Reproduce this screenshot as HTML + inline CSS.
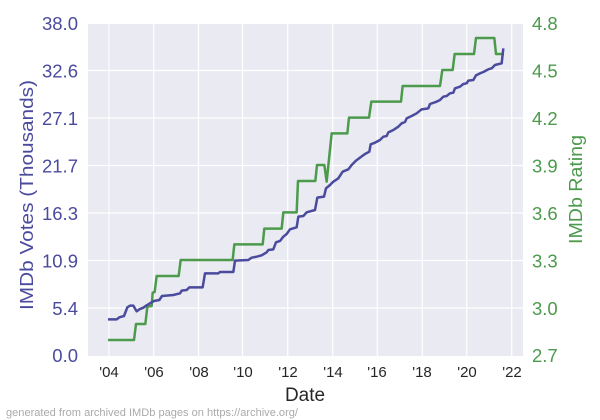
<!DOCTYPE html>
<html><head><meta charset="utf-8"><style>
html,body{margin:0;padding:0;background:#fff;}
svg{display:block;font-family:"Liberation Sans",Arial,sans-serif;}
</style></head><body>
<svg width="600" height="420" viewBox="0 0 600 420">
<rect x="88" y="24" width="435" height="332" fill="#eaeaf2"/>
<g stroke="#fff" stroke-width="1.2">
<line x1="88" x2="523" y1="70.5" y2="70.5"/><line x1="88" x2="523" y1="118" y2="118"/>
<line x1="88" x2="523" y1="165.5" y2="165.5"/><line x1="88" x2="523" y1="213" y2="213"/>
<line x1="88" x2="523" y1="260.5" y2="260.5"/><line x1="88" x2="523" y1="308" y2="308"/>
<line y1="24" y2="356" x1="109" x2="109"/><line y1="24" y2="356" x1="153.7" x2="153.7"/>
<line y1="24" y2="356" x1="198.5" x2="198.5"/><line y1="24" y2="356" x1="242.5" x2="242.5"/>
<line y1="24" y2="356" x1="287.7" x2="287.7"/><line y1="24" y2="356" x1="332.7" x2="332.7"/>
<line y1="24" y2="356" x1="377.3" x2="377.3"/><line y1="24" y2="356" x1="422.3" x2="422.3"/>
<line y1="24" y2="356" x1="466.7" x2="466.7"/><line y1="24" y2="356" x1="511.7" x2="511.7"/>
</g>
<g transform="translate(80,10) scale(0.33333)" fill="none" stroke-width="7.5" stroke-linejoin="round">
<path stroke="#4c9a4c" d="M84,990 L162,990 L168,942 L196,942 L202,890 L215,888 L218,848 L224,846 L230,798 L296,798 L302,750 L458,750 L463,703 L548,703 L553,656 L605,656 L610,607 L650,607 L654,513 L706,513 L711,465 L733,465 L740,515 L755,370 L802,370 L807,323 L867,323 L874,275 L963,275 L968,228 L1080,228 L1087,180 L1118,180 L1124,132 L1182,132 L1188,84 L1243,84 L1248,132 L1272,132"/>
<path stroke="#4b4b9e" d="M84,928 L110,928 L118,922 L132,918 L142,892 L150,887 L160,887 L170,904 L178,898 L190,893 L200,886 L210,880 L222,873 L238,870 L246,858 L280,855 L300,850 L305,842 L320,840 L328,832 L368,832 L375,790 L415,790 L420,786 L460,786 L465,752 L505,750 L515,743 L530,740 L545,736 L560,727 L565,720 L580,718 L588,697 L600,693 L610,680 L620,672 L630,658 L650,652 L655,620 L670,618 L680,607 L705,600 L712,563 L732,560 L738,535 L750,525 L760,515 L775,505 L788,485 L805,478 L815,465 L828,452 L840,443 L855,432 L868,425 L872,403 L885,398 L900,390 L910,380 L920,378 L925,367 L940,360 L955,350 L965,340 L975,336 L980,325 L995,318 L1010,310 L1025,298 L1045,295 L1050,282 L1070,275 L1080,270 L1090,260 L1100,258 L1110,250 L1120,248 L1125,235 L1140,230 L1150,222 L1160,220 L1165,212 L1180,210 L1188,196 L1200,190 L1210,186 L1225,178 L1235,175 L1245,165 L1265,160 L1270,115"/>
</g>
<g fill="#4b4b9e" font-size="18.5" text-anchor="end">
<text x="78" y="30">38.0</text><text x="78" y="77.5">32.6</text><text x="78" y="125">27.1</text>
<text x="78" y="172.5">21.7</text><text x="78" y="220">16.3</text><text x="78" y="267.5">10.9</text>
<text x="78" y="315">5.4</text><text x="78" y="362">0.0</text>
</g>
<g fill="#4c9a4c" font-size="18.5">
<text x="532" y="30">4.8</text><text x="532" y="77.5">4.5</text><text x="532" y="125">4.2</text>
<text x="532" y="172.5">3.9</text><text x="532" y="220">3.6</text><text x="532" y="267.5">3.3</text>
<text x="532" y="315">3.0</text><text x="532" y="362">2.7</text>
</g>
<g fill="#262626" font-size="15" text-anchor="middle">
<text x="109" y="377">'04</text><text x="154" y="377">'06</text><text x="199" y="377">'08</text>
<text x="243" y="377">'10</text><text x="288" y="377">'12</text><text x="333" y="377">'14</text>
<text x="377" y="377">'16</text><text x="422" y="377">'18</text><text x="467" y="377">'20</text>
<text x="512" y="377">'22</text>
</g>
<text x="285" y="401" font-size="19" fill="#262626" textLength="40" lengthAdjust="spacingAndGlyphs">Date</text>
<text transform="translate(33,310) rotate(-90)" font-size="18.5" fill="#4b4b9e" textLength="230" lengthAdjust="spacingAndGlyphs">IMDb Votes (Thousands)</text>
<text transform="translate(582,244) rotate(-90)" font-size="18.5" fill="#4c9a4c" textLength="109" lengthAdjust="spacingAndGlyphs">IMDb Rating</text>
<text x="6" y="416" font-size="11" fill="#aaa" textLength="292" lengthAdjust="spacingAndGlyphs">generated from archived IMDb pages on https://archive.org/</text>
</svg>
</body></html>
